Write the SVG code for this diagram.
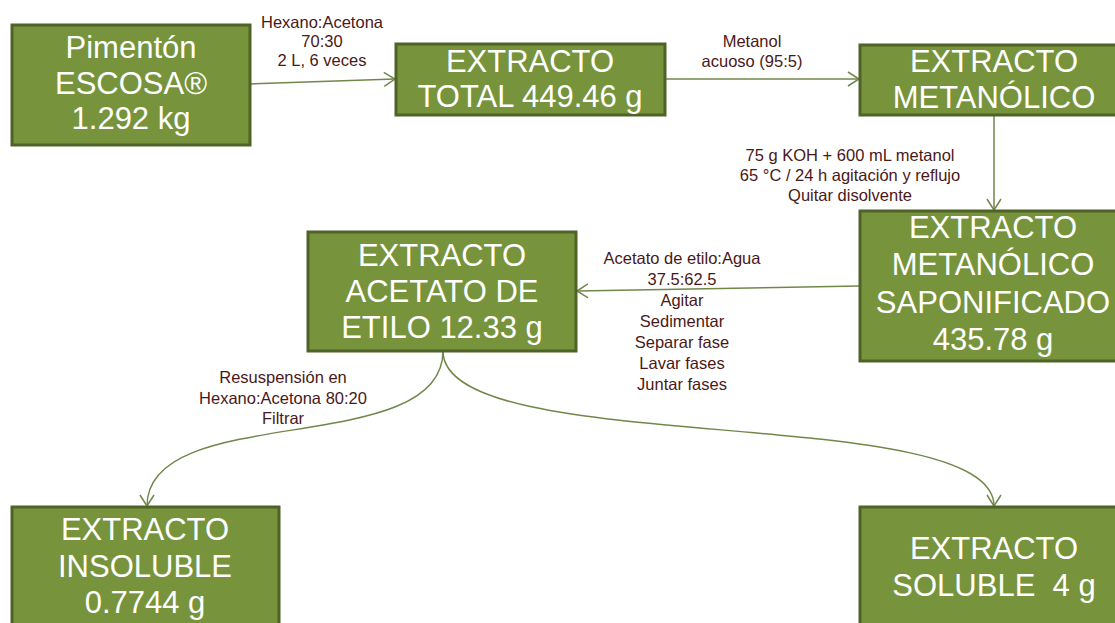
<svg xmlns="http://www.w3.org/2000/svg" width="1115" height="623" viewBox="0 0 1115 623">
<style>
.box{fill:#77933C;stroke:#4F6228;stroke-width:3}
.bt{font-family:"Liberation Sans",Arial,sans-serif;font-size:31px;fill:#ffffff;text-anchor:middle;white-space:pre}
.lt{font-family:"Liberation Sans",Arial,sans-serif;font-size:16.5px;fill:#4a1818;text-anchor:middle}
.con{fill:none;stroke:#71874a;stroke-width:1.5}
</style>
<defs>
<marker id="arr" markerUnits="userSpaceOnUse" markerWidth="14" markerHeight="16" refX="12" refY="8" orient="auto" viewBox="0 0 14 16">
<path d="M1,1 L12,8 L1,15" fill="none" stroke="#71874a" stroke-width="1.5"/>
</marker>
</defs>
<rect width="1115" height="623" fill="#ffffff"/>
<g id="connectors">
<path class="con" d="M250,84 L395,79" marker-end="url(#arr)"/>
<path class="con" d="M665,79 L859,79" marker-end="url(#arr)"/>
<path class="con" d="M994,115 L994,210" marker-end="url(#arr)"/>
<path class="con" d="M859,286 L577,291" marker-end="url(#arr)"/>
<path class="con" d="M443,351 C443,460 147,400 147,506" marker-end="url(#arr)"/>
<path class="con" d="M443,351 C443,460 994,400 994,506" marker-end="url(#arr)"/>
</g>
<g id="labels">
<text class="lt" x="322" y="28">Hexano:Acetona</text>
<text class="lt" x="322" y="47">70:30</text>
<text class="lt" x="322" y="66">2 L, 6 veces</text>
<text class="lt" x="752" y="47">Metanol</text>
<text class="lt" x="752" y="67">acuoso (95:5)</text>
<text class="lt" x="850" y="161">75 g KOH + 600 mL metanol</text>
<text class="lt" x="850" y="181">65 °C / 24 h agitación y reflujo</text>
<text class="lt" x="850" y="201">Quitar disolvente</text>
<text class="lt" x="682" y="264">Acetato de etilo:Agua</text>
<text class="lt" x="682" y="285">37.5:62.5</text>
<text class="lt" x="682" y="306">Agitar</text>
<text class="lt" x="682" y="327">Sedimentar</text>
<text class="lt" x="682" y="348">Separar fase</text>
<text class="lt" x="682" y="369">Lavar fases</text>
<text class="lt" x="682" y="390">Juntar fases</text>
<text class="lt" x="283" y="383">Resuspensión en</text>
<text class="lt" x="283" y="404">Hexano:Acetona 80:20</text>
<text class="lt" x="283" y="424">Filtrar</text>
</g>
<g id="n1">
<rect class="box" x="12" y="25" width="238" height="120"/>
<text class="bt" x="131" y="58">Pimentón</text>
<text class="bt" x="131" y="94">ESCOSA®</text>
<text class="bt" x="131" y="129">1.292 kg</text>
</g>
<g id="n2">
<rect class="box" x="396" y="44" width="269" height="71"/>
<text class="bt" x="530" y="72">EXTRACTO</text>
<text class="bt" x="530" y="107">TOTAL 449.46 g</text>
</g>
<g id="n3">
<rect class="box" x="860" y="45" width="268" height="70"/>
<text class="bt" x="994" y="72">EXTRACTO</text>
<text class="bt" x="994" y="108">METANÓLICO</text>
</g>
<g id="n4">
<rect class="box" x="860" y="211" width="268" height="150"/>
<text class="bt" x="993" y="238">EXTRACTO</text>
<text class="bt" x="993" y="275">METANÓLICO</text>
<text class="bt" x="993" y="313">SAPONIFICADO</text>
<text class="bt" x="993" y="350">435.78 g</text>
</g>
<g id="n5">
<rect class="box" x="308" y="232" width="268" height="119"/>
<text class="bt" x="442" y="266">EXTRACTO</text>
<text class="bt" x="442" y="302">ACETATO DE</text>
<text class="bt" x="442" y="338">ETILO 12.33 g</text>
</g>
<g id="n6">
<rect class="box" x="12" y="507" width="267" height="130"/>
<text class="bt" x="145" y="540">EXTRACTO</text>
<text class="bt" x="145" y="577">INSOLUBLE</text>
<text class="bt" x="145" y="613">0.7744 g</text>
</g>
<g id="n7">
<rect class="box" x="860" y="507" width="268" height="130"/>
<text class="bt" x="994" y="559">EXTRACTO</text>
<text class="bt" x="994" y="596">SOLUBLE  4 g</text>
</g>
</svg>
